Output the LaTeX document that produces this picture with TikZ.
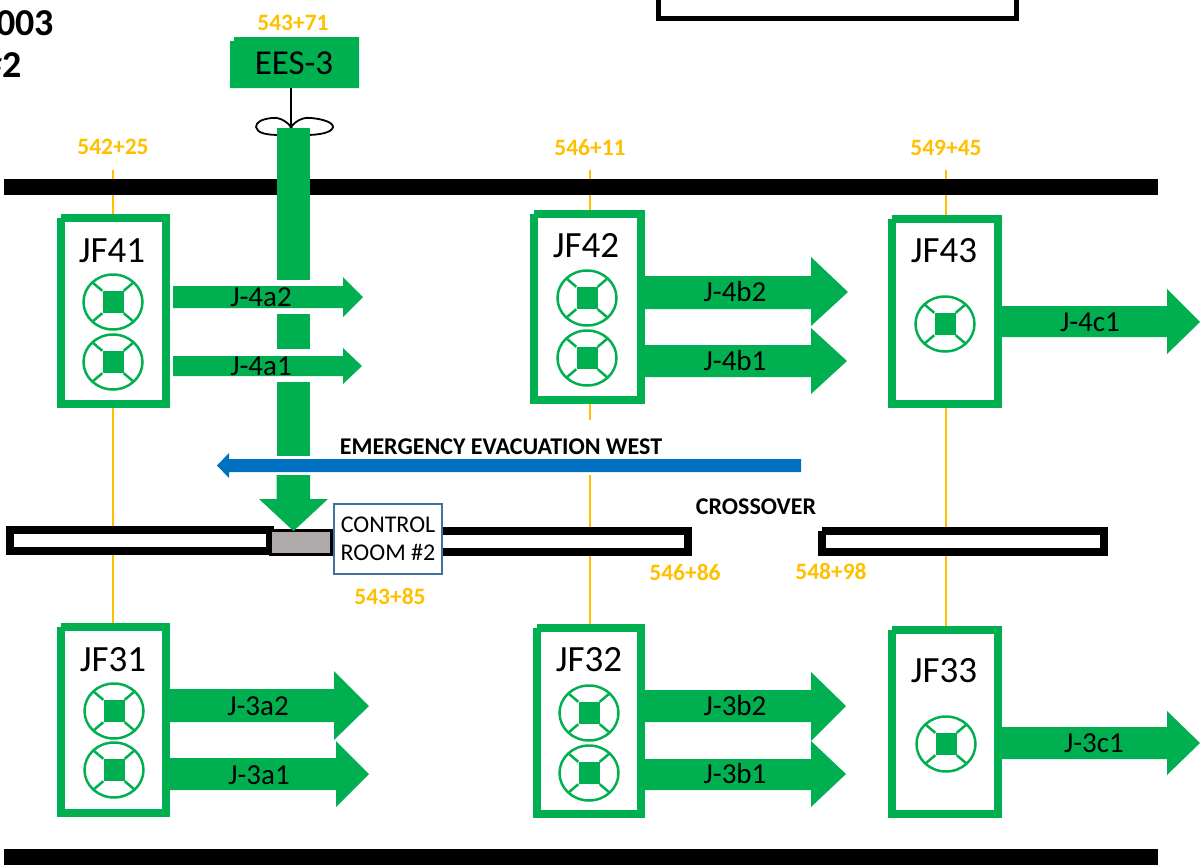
\documentclass[tikz,border=0pt]{standalone}
\usepackage{fontspec}
\setmainfont{Carlito}
\definecolor{jgreen}{HTML}{00B050}
\definecolor{jorange}{HTML}{FFC000}
\definecolor{jblue}{HTML}{0070C0}
\definecolor{jframe}{HTML}{41719C}
\definecolor{jgrey}{HTML}{AEAAAA}
\tikzset{
  txt/.style={inner sep=0pt,text depth=0pt,text=black},
  station/.style={txt,text=jorange,text height=15pt,font=\fontsize{23.5}{23.5}\selectfont\bfseries},
  jfname/.style={txt,text height=23.5pt,font=\fontsize{37}{37}\selectfont},
  flowlab/.style={txt,text height=18.5pt,font=\fontsize{29}{29}\selectfont},
  boldlab/.style={txt,text height=15.5pt,font=\fontsize{24}{24}\selectfont\bfseries},
  roomlab/.style={txt,text height=15.5pt,font=\fontsize{24}{24}\selectfont},
  headlab/.style={txt,anchor=east,text height=24pt,font=\fontsize{38}{38}\selectfont\bfseries},
  jfbox/.style={draw=jgreen,line width=8pt,fill=white,inner sep=0pt,minimum width=#1},
  fansq/.style={fill=jgreen,inner sep=0pt,minimum width=21pt,minimum height=22pt},
  fanline/.style={draw=jgreen,line width=2.5pt},
  stickline/.style={draw=jorange,line width=1.6pt},
  rail/.style={fill=black,inner sep=0pt,minimum width=1154pt,minimum height=16pt},
  tunnel/.style={draw=black,line width=8pt,fill=white,inner sep=0pt,minimum height=21pt},
  flow/.style={fill=jgreen},
}
% name, x, y
\newcommand{\fanicon}[3]{%
  \draw[fanline] (#2,#3) ellipse [x radius=29.5pt,y radius=27.5pt];
  \node[fansq] (#1) at (#2,#3) {};
  \draw[fanline] (#1.north east) -- ++(10,-8.5);
  \draw[fanline] (#1.north west) -- ++(-10,-8.5);
  \draw[fanline] (#1.south east) -- ++(10,8.5);
  \draw[fanline] (#1.south west) -- ++(-10,8.5);
}
% x0, xhead, xtip, bodytop, bodybottom, headtop, headbottom, ymid
\newcommand{\blockarrow}[8]{%
  \fill[flow] (#1,#4) -- (#2,#4) -- (#2,#6) -- (#3,#8) -- (#2,#7) -- (#2,#5) -- (#1,#5) -- cycle;
}
\newcommand{\notch}[1]{\fill[white] (#1.north west) rectangle ++(4,4);}
\begin{document}
\begin{tikzpicture}[x=1pt,y=-1pt]
\useasboundingbox (0,0) rectangle (1200,865);
\clip (0,0) rectangle (1200,865);
\fill[white] (0,0) rectangle (1200,865);

% stations
\node[station] (s1) at (113,147) {542+25};
\node[station] (s2) at (590,148) {546+11};
\node[station] (s3) at (946,148) {549+45};
\node[station] (s4) at (293,23) {543+71};
\node[station] (s5) at (390,597) {543+85};
\node[station] (s6) at (685,573) {546+86};
\node[station] (s7) at (831,572) {548+98};

% JF boxes
\node[jfbox=105pt,minimum height=186pt] (jf41) at (113.5,311) {};
\node[jfbox=107pt,minimum height=186pt] (jf42) at (587.5,307) {};
\node[jfbox=106pt,minimum height=185pt] (jf43) at (945,311.5) {};
\node[jfbox=105pt,minimum height=186pt] (jf31) at (113.5,720) {};
\node[jfbox=104pt,minimum height=186pt] (jf32) at (589,721) {};
\node[jfbox=106pt,minimum height=184pt] (jf33) at (945,722) {};
\notch{jf41}\notch{jf42}\notch{jf43}\notch{jf31}\notch{jf32}\notch{jf33}

% stationing sticks
\coordinate (t1) at (113,170); \coordinate (t2) at (590,170); \coordinate (t3) at (946,170);
\coordinate (m2a) at (590,420); \coordinate (m2b) at (590,475);
\draw[stickline] (t1) -- (t1 |- jf41.north);
\draw[stickline] (t2) -- (t2 |- jf42.north);
\draw[stickline] (t3) -- (t3 |- jf43.north);
\draw[stickline] (t1 |- jf41.south) -- (t1 |- jf31.north);
\draw[stickline] (t2 |- jf42.south) -- (m2a);
\draw[stickline] (m2b) -- (t2 |- jf32.north);
\draw[stickline] (t3 |- jf43.south) -- (t3 |- jf33.north);

% rails
\node[rail] (toprail) at (581,187) {};
\node[rail] (botrail) at (581,857) {};
\draw[line width=5pt] (658.5,-10) -- (658.5,18.5) -- (1016.5,18.5) -- (1016.5,-10);

% tunnel walls
\node[tunnel,minimum width=260pt] (tw1) at (140,540.5) {};
\node[tunnel,minimum width=260pt] (tw2) at (558,541) {};
\node[tunnel,minimum width=282pt] (tw3) at (963,541) {};
\notch{tw3}
\node[draw=black,line width=3pt,fill=jgrey,inner sep=0pt,minimum width=61pt,minimum height=24pt] (grey) at (301,542.5) {};
\node[draw=jframe,line width=2.5pt,fill=white,inner sep=0pt,minimum width=108pt,minimum height=70pt] (room) at (388,539) {};
\node[roomlab] (room1) at (388,525) {CONTROL};
\node[roomlab] (room2) at (388,553) {ROOM \#2};

% EES-3
\fill[flow] (230,41) -- (234,41) -- (234,37) -- (359,37) -- (359,88) -- (230,88) -- cycle;
\node[txt,text height=22.5pt,font=\fontsize{35}{35}\selectfont] (ees) at (294,63) {EES-3};
\coordinate (hub) at (291,127);
\draw[line width=1.8pt] (291,88) -- (hub);
\draw[line width=1.8pt] (hub) .. controls (285,119) and (276,117) .. (272,118) .. controls (262,119) and (256,122) .. (256,127) .. controls (257,133) and (266,135) .. (280,135) .. controls (286,134) and (289,131) .. (hub);
\draw[line width=1.8pt] (hub) .. controls (297,119) and (306,117) .. (311,118) .. controls (322,119) and (333,122) .. (333,127) .. controls (332,133) and (318,135) .. (306,135) .. controls (298,134) and (293,131) .. (hub);

% vertical airway
\fill[flow] (276.5,128) rectangle (310,280);
\fill[flow] (276.5,314) rectangle (310,349);
\fill[flow] (276.5,382) rectangle (310,456);
\fill[flow] (276.5,475) -- (310,475) -- (310,499) -- (328,499) -- (293.5,531) -- (259,499) -- (276.5,499) -- cycle;

% fans
\fanicon{f41a}{113}{302}
\fanicon{f41b}{113}{362}
\fanicon{f42a}{587}{298}
\fanicon{f42b}{587}{358}
\fanicon{f43a}{945}{324}
\fanicon{f31a}{114}{711}
\fanicon{f31b}{114}{770}
\fanicon{f32a}{589}{713}
\fanicon{f32b}{589}{773}
\fanicon{f33a}{946}{744}

% flow arrows
\blockarrow{173}{343}{363}{286}{308}{277}{317}{297}
\blockarrow{173}{343}{362}{356}{376}{348}{384}{366}
\blockarrow{645}{811}{848}{276}{309}{257}{326}{292}
\blockarrow{645}{811}{847}{345}{377}{328}{394}{361}
\blockarrow{1002}{1167}{1200}{306}{337}{289}{354}{322}
\blockarrow{170}{334}{369}{689}{722}{671}{740}{706}
\blockarrow{170}{336}{369}{758}{790}{741}{807}{774}
\blockarrow{645}{811}{846}{690}{722}{672}{741}{706}
\blockarrow{645}{811}{846}{759}{790}{741}{807}{774}
\blockarrow{1002}{1167}{1200}{727}{759}{711}{775}{743}

% blue arrow
\fill[jblue] (801,459) -- (229,459) -- (229,453) -- (217,465.5) -- (229,478) -- (229,472) -- (801,472) -- cycle;

% labels
\node[jfname] (n41) at (112,251) {JF41};
\node[jfname] (n42) at (586,246) {JF42};
\node[jfname] (n43) at (944,251) {JF43};
\node[jfname] (n31) at (113,660) {JF31};
\node[jfname] (n32) at (589,660) {JF32};
\node[jfname] (n33) at (944,671) {JF33};
\node[flowlab] (a1) at (261,297) {J-4a2};
\node[flowlab] (a2) at (261,366) {J-4a1};
\node[flowlab] (a3) at (735,292) {J-4b2};
\node[flowlab] (a4) at (735,361) {J-4b1};
\node[flowlab] (a5) at (1090,322) {J-4c1};
\node[flowlab] (a6) at (258,706) {J-3a2};
\node[flowlab] (a7) at (259,775) {J-3a1};
\node[flowlab] (a8) at (735,706) {J-3b2};
\node[flowlab] (a9) at (735,774) {J-3b1};
\node[flowlab] (a10) at (1094,743) {J-3c1};
\node[boldlab] (evac) at (501,447) {EMERGENCY EVACUATION WEST};
\node[boldlab] (xo) at (756,507) {CROSSOVER};
\node[headlab] (h1) at (54,23) {003};
\node[headlab] (h2) at (22,65) {\#2};
\end{tikzpicture}
\end{document}
